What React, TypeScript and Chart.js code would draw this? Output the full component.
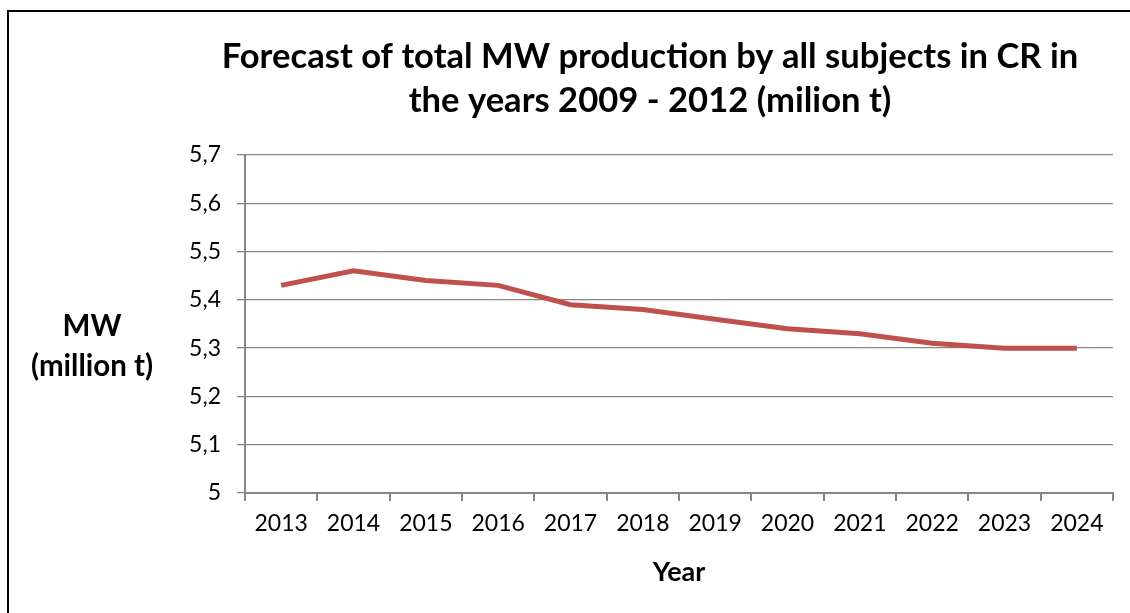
import React, { useEffect, useRef } from "react";
import { Chart, registerables } from "chart.js";

Chart.register(...registerables);

const years = ["2013", "2014", "2015", "2016", "2017", "2018", "2019", "2020", "2021", "2022", "2023", "2024"];
const production = [5.43, 5.46, 5.44, 5.43, 5.39, 5.38, 5.36, 5.34, 5.33, 5.31, 5.30, 5.30];
const titleLines = ["Forecast of total MW production by all subjects in CR in", "the years 2009 - 2012 (milion t)"];
const yTitleLines = ["MW", "(million t)"];
const xTitle = "Year";

const FONT = "Lato, 'Open Sans', sans-serif";
const AXIS_GREY = "#868686";

const textPlugin = {
  id: "textPlugin",
  afterDraw(chart: any) {
    const ctx = chart.ctx;
    ctx.save();
    ctx.fillStyle = "#000";
    ctx.textAlign = "center";
    ctx.textBaseline = "middle";
    ctx.font = `bold 34.6px ${FONT}`;
    ctx.fillText(titleLines[0], 650, 57);
    ctx.fillText(titleLines[1], 650, 101);
    ctx.font = `bold 29.5px ${FONT}`;
    ctx.fillText(yTitleLines[0], 92, 326);
    ctx.fillText(yTitleLines[1], 92, 366);
    ctx.restore();
  },
};

export default function App() {
  const ref = useRef<HTMLCanvasElement>(null);
  useEffect(() => {
    if (!ref.current) return;
    const chart = new Chart(ref.current, {
      type: "line",
      data: {
        labels: years,
        datasets: [
          {
            data: production,
            borderColor: "#C0504D",
            borderWidth: 5,
            pointRadius: 0,
            tension: 0,
            fill: false,
          },
        ],
      },
      options: {
        responsive: false,
        animation: false,
        layout: { padding: { left: 0, right: 17, top: 155, bottom: 0 } },
        plugins: {
          legend: { display: false },
          tooltip: { enabled: false },
          title: { display: false },
        },
        scales: {
          x: {
            type: "category",
            offset: true,
            grid: {
              offset: true,
              drawOnChartArea: false,
              drawTicks: true,
              tickLength: 8,
              color: AXIS_GREY,
              lineWidth: 2,
            },
            border: { color: AXIS_GREY, width: 2 },
            ticks: { color: "#000", font: { family: FONT, size: 23 }, padding: 9, maxRotation: 0 },
            title: {
              display: true,
              text: xTitle,
              color: "#000",
              font: { family: FONT, size: 27, weight: "bold", lineHeight: 1.2 },
              padding: { top: 0, bottom: 25 },
            },
            afterFit(scale: any) {
              scale.height = 120;
            },
          },
          y: {
            min: 5,
            max: 5.7,
            grid: {
              color: AXIS_GREY,
              lineWidth: 1.3,
              tickLength: 8,
              drawTicks: true,
            },
            border: { color: AXIS_GREY, width: 2 },
            ticks: {
              stepSize: 0.1,
              color: "#000",
              font: { family: FONT, size: 23 },
              padding: 16,
              callback: (v: any) => String(Number(Number(v).toFixed(1))).replace(".", ","),
            },
            afterFit(scale: any) {
              scale.width = 245;
            },
          },
        },
      },
      plugins: [textPlugin],
    });
    return () => chart.destroy();
  }, []);

  return (
    <div style={{ position: "fixed", left: 0, top: 0, width: 1130, height: 613, background: "#fff", overflow: "hidden" }}>
      <canvas ref={ref} width={1130} height={613} style={{ position: "absolute", left: 0, top: 0 }} />
      <div
        style={{
          position: "absolute",
          left: 7,
          top: 10,
          width: 1200,
          height: 700,
          border: "2px solid #000",
          pointerEvents: "none",
        }}
      />
    </div>
  );
}
